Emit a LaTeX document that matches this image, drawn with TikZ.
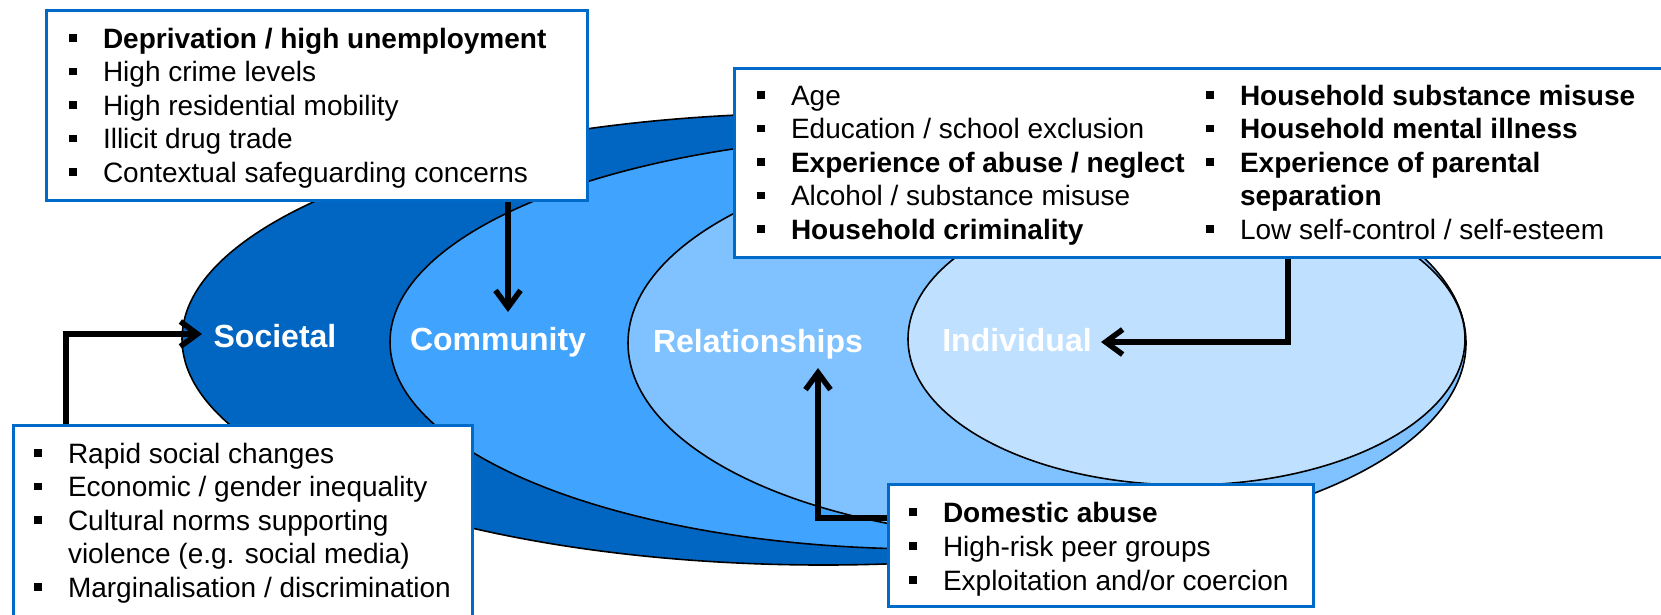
\documentclass[tikz,border=0pt]{standalone}
\usepackage{fontspec}
\setmainfont{Liberation Sans}
\usetikzlibrary{arrows.meta}
\definecolor{socC}{RGB}{0,102,194}
\definecolor{comC}{RGB}{64,164,255}
\definecolor{relC}{RGB}{128,194,255}
\definecolor{indC}{RGB}{191,224,255}
\definecolor{boxC}{RGB}{0,106,200}
\newcommand{\myitem}[1]{\makebox[34pt][l]{\rule[6.3pt]{7.5pt}{7.5pt}}#1}
\newcommand{\mycont}[1]{\hspace*{34pt}#1}
\begin{document}
\begin{tikzpicture}[x=1pt,y=-1pt,
  ring/.style={draw=black,line width=1.6pt},
  infobox/.style={draw=boxC,line width=3pt,fill=white,inner sep=0pt,outer sep=0pt,anchor=north west},
  txt/.style={anchor=base west,inner sep=0pt,outer sep=0pt,font=\fontsize{28}{33.6}\selectfont},
  lvl/.style={anchor=base,inner sep=0pt,text=white,font=\fontsize{32}{38}\selectfont\bfseries},
  arr/.style={line width=5.5pt,-{Straight Barb[length=17pt,width=25pt]}}]
\useasboundingbox (0,0) rectangle (1661,614);
\clip (0,0) rectangle (1661,614);
\fill[white] (0,0) rectangle (1661,614);
% nested ellipses
\filldraw[ring,fill=socC] (823.5,339) ellipse [x radius=641.5pt, y radius=226pt];
\filldraw[ring,fill=comC] (927.5,342) ellipse [x radius=537.5pt, y radius=207pt];
\filldraw[ring,fill=relC] (1047,343) ellipse [x radius=419pt, y radius=195pt];
\filldraw[ring,fill=indC] (1186.5,339) ellipse [x radius=278.5pt, y radius=146pt];
% level labels
\node[lvl] (lsoc) at (275,347) {Societal};
\node[lvl] (lcom) at (498,350) {Community};
\node[lvl] (lrel) at (758,352) {Relationships};
\node[lvl] (lind) at (1017,351) {Individual};
% boxes
\node[infobox,minimum width=541pt,minimum height=190pt] (combox) at (46,10) {};
\node[infobox,minimum width=941pt,minimum height=189pt] (indbox) at (734,68) {};
\node[infobox,minimum width=459pt,minimum height=205pt] (socbox) at (13,425) {};
\node[infobox,minimum width=425pt,minimum height=122pt] (relbox) at (888,484) {};
% connectors
\coordinate (t1) at (508,312);
\coordinate (k2) at (66,334);
\coordinate (t2) at (202,334);
\coordinate (k3) at (1288,342);
\coordinate (t3) at (1101,342);
\coordinate (k4) at (818,518);
\coordinate (t4) at (818,368);
\draw[arr] (combox.south -| t1) -- (t1);
\draw[arr] (socbox.north -| k2) -- (k2) -- (t2);
\draw[arr] (indbox.south -| k3) -- (k3) -- (t3);
\draw[arr] (relbox.west |- k4) -- (k4) -- (t4);
% redraw box borders over connector starts
\draw[boxC,line width=3pt] (combox.south west) -- (combox.south east);
\draw[boxC,line width=3pt] (socbox.north west) -- (socbox.north east);
\draw[boxC,line width=3pt] (indbox.south west) -- (indbox.south east);
\draw[boxC,line width=3pt] (relbox.north west) -- (relbox.south west);
% community box text
\node[txt] (c1) at (69,48) {\myitem{\textbf{Deprivation / high unemployment}}};
\node[txt] (c2) at (69,81.5) {\myitem{High crime levels}};
\node[txt] (c3) at (69,115) {\myitem{High residential mobility}};
\node[txt] (c4) at (69,148.5) {\myitem{Illicit drug trade}};
\node[txt] (c5) at (69,182) {\myitem{Contextual safeguarding concerns}};
% individual box text
\node[txt] (i1) at (757,105) {\myitem{Age}};
\node[txt] (i2) at (757,138.5) {\myitem{Education / school exclusion}};
\node[txt] (i3) at (757,172) {\myitem{\textbf{Experience of abuse / neglect}}};
\node[txt] (i4) at (757,205.5) {\myitem{Alcohol / substance misuse}};
\node[txt] (i5) at (757,239) {\myitem{\textbf{Household criminality}}};
\node[txt] (j1) at (1206,105) {\myitem{\textbf{Household substance misuse}}};
\node[txt] (j2) at (1206,138.5) {\myitem{\textbf{Household mental illness}}};
\node[txt] (j3) at (1206,172) {\myitem{\textbf{Experience of parental}}};
\node[txt] (j4) at (1206,205.5) {\mycont{\textbf{separation}}};
\node[txt] (j5) at (1206,239) {\myitem{Low self-control / self-esteem}};
% societal box text
\node[txt] (s1) at (34,463) {\myitem{Rapid social changes}};
\node[txt] (s2) at (34,496.5) {\myitem{Economic / gender inequality}};
\node[txt] (s3) at (34,530) {\myitem{Cultural norms supporting}};
\node[txt] (s4) at (34,563.5) {\mycont{violence (e.g. social media)}};
\node[txt] (s5) at (34,597) {\myitem{Marginalisation / discrimination}};
% relationships box text
\node[txt] (r1) at (909,522) {\myitem{\textbf{Domestic abuse}}};
\node[txt] (r2) at (909,556) {\myitem{High-risk peer groups}};
\node[txt] (r3) at (909,590) {\myitem{Exploitation and/or coercion}};
\end{tikzpicture}
\end{document}
